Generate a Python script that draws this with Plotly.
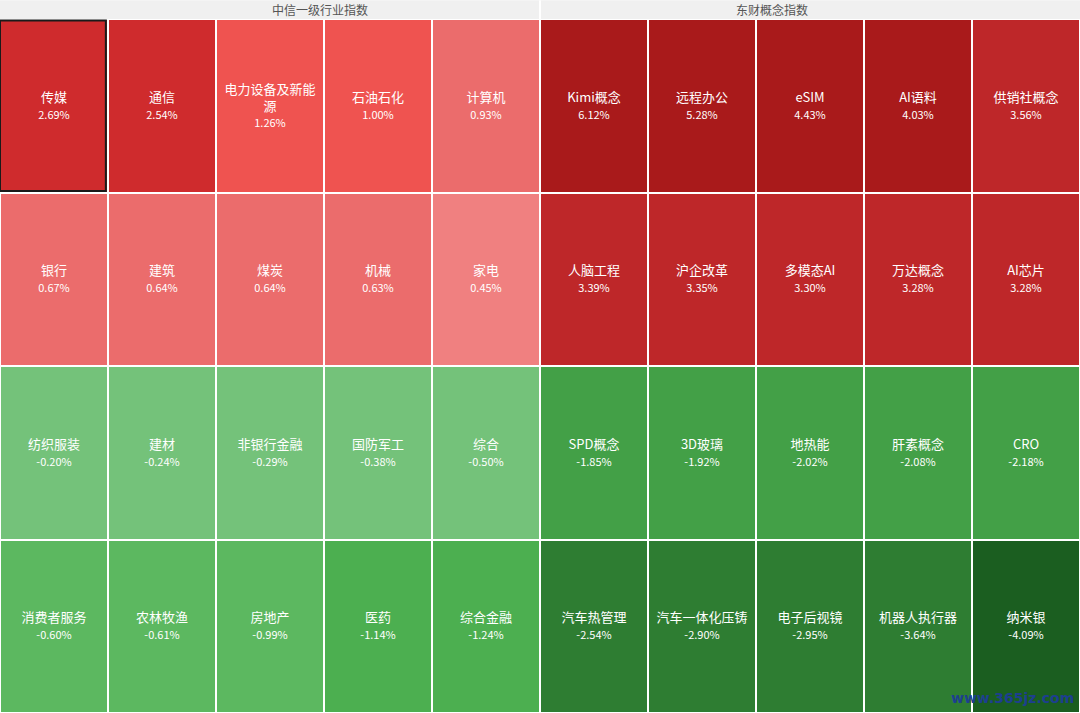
import plotly.graph_objects as go

# ---------------- data ----------------
panel_titles = ["中信一级行业指数", "东财概念指数"]

names_left = [
    ["传媒", "通信", "电力设备及新能源", "石油石化", "计算机"],
    ["银行", "建筑", "煤炭", "机械", "家电"],
    ["纺织服装", "建材", "非银行金融", "国防军工", "综合"],
    ["消费者服务", "农林牧渔", "房地产", "医药", "综合金融"],
]
values_left = [
    [2.69, 2.54, 1.26, 1.00, 0.93],
    [0.67, 0.64, 0.64, 0.63, 0.45],
    [-0.20, -0.24, -0.29, -0.38, -0.50],
    [-0.60, -0.61, -0.99, -1.14, -1.24],
]
names_right = [
    ["Kimi概念", "远程办公", "eSIM", "AI语料", "供销社概念"],
    ["人脑工程", "沪企改革", "多模态AI", "万达概念", "AI芯片"],
    ["SPD概念", "3D玻璃", "地热能", "肝素概念", "CRO"],
    ["汽车热管理", "汽车一体化压铸", "电子后视镜", "机器人执行器", "纳米银"],
]
values_right = [
    [6.12, 5.28, 4.43, 4.03, 3.56],
    [3.39, 3.35, 3.30, 3.28, 3.28],
    [-1.85, -1.92, -2.02, -2.08, -2.18],
    [-2.54, -2.90, -2.95, -3.64, -4.09],
]
highlighted = "传媒"
watermark = "www.365jz.com"

# ---------------- styling ----------------
color_bins = [
    (4.0, "#a91a1b"), (3.0, "#be2729"), (2.0, "#cf2b2d"), (1.0, "#ef5350"),
    (0.5, "#eb6c6c"), (0.0, "#f08080"), (-0.55, "#74c27a"), (-1.0, "#5cb860"),
    (-1.5, "#4caf50"), (-2.5, "#43a047"), (-4.0, "#2e7d32"), (float("-inf"), "#1b5e20"),
]
n_bins = len(color_bins)
colorscale = []
for k, (_, c) in enumerate(color_bins):
    colorscale.append([k / n_bins, c])
    colorscale.append([(k + 1) / n_bins, c])


def bin_index(v):
    for k, (t, _) in enumerate(color_bins):
        if v >= t:
            return k
    return n_bins - 1


def wrap(s, n=7):
    return "<br>".join(s[i:i + n] for i in range(0, len(s), n))


FONT = "Noto Sans CJK SC, Microsoft YaHei, sans-serif"

names = [l + r for l, r in zip(names_left, names_right)]
values = [l + r for l, r in zip(values_left, values_right)]
n_rows = len(names)
n_cols = len(names[0])

z = [[bin_index(v) for v in row] for row in values]
text = [
    [f"{wrap(nm)}<br><span style='font-size:11px'>{v:.2f}%</span>" for nm, v in zip(rn, rv)]
    for rn, rv in zip(names, values)
]

fig = go.Figure(
    go.Heatmap(
        z=z,
        x=list(range(n_cols)),
        y=list(range(n_rows)),
        text=text,
        texttemplate="%{text}",
        textfont=dict(family=FONT, size=13, color="white"),
        colorscale=colorscale,
        zmin=-0.5,
        zmax=n_bins - 0.5,
        showscale=False,
        xgap=2,
        ygap=2,
        hoverinfo="skip",
    )
)

# highlight border
for r, row in enumerate(names):
    for c, nm in enumerate(row):
        if nm == highlighted:
            fig.add_shape(
                type="rect", xref="x", yref="y",
                x0=c - 0.5, x1=c + 0.5 - 0.02, y0=r - 0.5 + 0.008, y1=r + 0.5 - 0.008,
                line=dict(color="#1a1a1a", width=2), fillcolor="rgba(0,0,0,0)",
            )

# header band
fig.add_shape(type="rect", xref="paper", yref="paper", x0=0, x1=1, y0=1, y1=1.027,
              fillcolor="#f0f0f0", line=dict(width=0), layer="below")
fig.add_shape(type="line", xref="paper", yref="paper", x0=0.5, x1=0.5, y0=1, y1=1.027,
              line=dict(color="white", width=2))
for i, t in enumerate(panel_titles):
    fig.add_annotation(x=0.25 + 0.5 * i, y=1.0135, xref="paper", yref="paper",
                       text=t, showarrow=False, yanchor="middle",
                       font=dict(family=FONT, size=12, color="#555555"))

fig.add_annotation(x=1, y=0.0, xref="paper", yref="paper", text=f"<b>{watermark}</b>",
                   showarrow=False, xanchor="right", yanchor="bottom", xshift=-4, yshift=5,
                   font=dict(family="DejaVu Sans, sans-serif", size=14, color="#1d3f8f"))

fig.update_xaxes(visible=False, range=[-0.5, n_cols - 0.5], fixedrange=True)
fig.update_yaxes(visible=False, range=[n_rows - 0.5, -0.5], fixedrange=True)
fig.update_layout(
    width=1080, height=713,
    margin=dict(l=0, r=0, t=19, b=0),
    paper_bgcolor="white",
    plot_bgcolor="white",
)

fig.write_html(
    "out.html",
    config={"displayModeBar": False},
    post_script="document.body.style.margin='0';document.body.style.overflow='hidden';",
)
